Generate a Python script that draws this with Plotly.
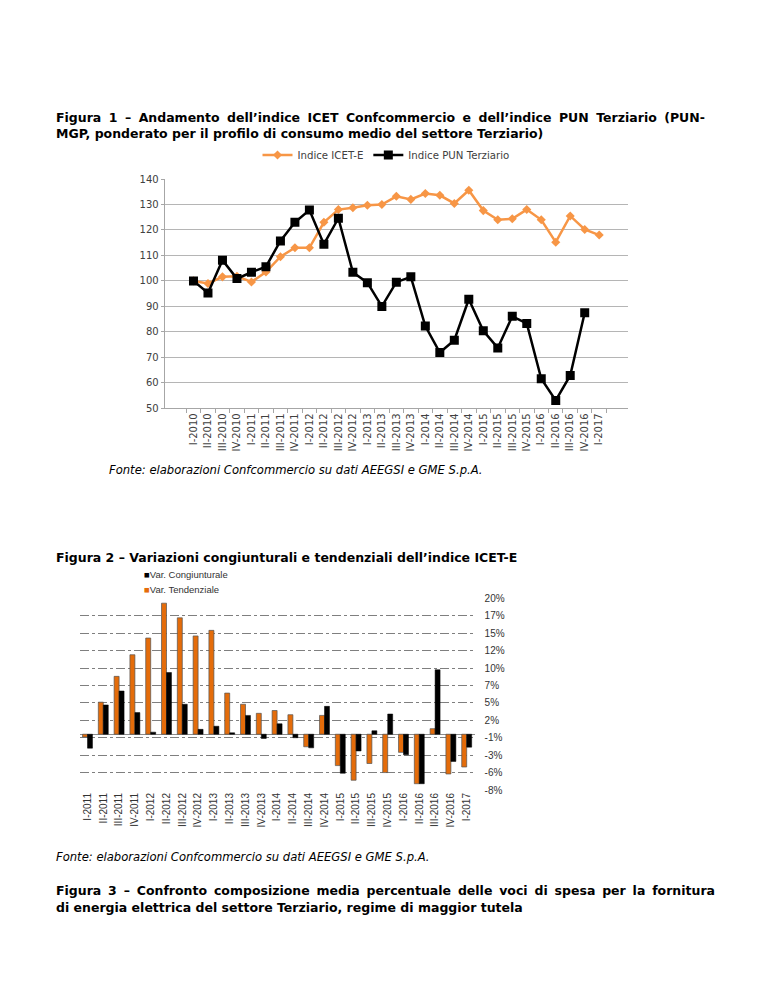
import plotly.graph_objects as go

# ---------------- data ----------------
quarters_fig1 = ["I-2010", "II-2010", "III-2010", "IV-2010",
                 "I-2011", "II-2011", "III-2011", "IV-2011",
                 "I-2012", "II-2012", "III-2012", "IV-2012",
                 "I-2013", "II-2013", "III-2013", "IV-2013",
                 "I-2014", "II-2014", "III-2014", "IV-2014",
                 "I-2015", "II-2015", "III-2015", "IV-2015",
                 "I-2016", "II-2016", "III-2016", "IV-2016",
                 "I-2017"]
icet_e = [100, 99, 101.6, 101.8, 99.6, 103.5, 109.5, 113, 113, 123, 128,
          128.7, 129.7, 130, 133.2, 132, 134.3, 133.6, 130.4, 135.6, 127.6,
          124, 124.4, 128, 124, 115.2, 125.5, 120.2, 118]
pun_terziario = [100, 95.3, 108.1, 100.9, 103.4, 105.6, 115.7, 123, 127.8,
                 114.4, 124.6, 103.4, 99.3, 90, 99.5, 101.6, 82.3, 71.9, 76.7,
                 92.8, 80.4, 73.7, 86.1, 83.3, 61.6, 53.1, 62.9, 87.5, None]
fig1_ticks = [50, 60, 70, 80, 90, 100, 110, 120, 130, 140]

quarters_fig2 = ["I-2011", "II-2011", "III-2011", "IV-2011",
                 "I-2012", "II-2012", "III-2012", "IV-2012",
                 "I-2013", "II-2013", "III-2013", "IV-2013",
                 "I-2014", "II-2014", "III-2014", "IV-2014",
                 "I-2015", "II-2015", "III-2015", "IV-2015",
                 "I-2016", "II-2016", "III-2016", "IV-2016",
                 "I-2017"]
var_tendenziale = [-0.4, 4.6, 8.3, 11.4, 13.8, 18.8, 16.7, 14.1, 14.9, 5.9,
                   4.3, 3.0, 3.4, 2.8, -1.8, 2.7, -4.5, -6.6, -4.2, -5.5,
                   -2.6, -7.1, 0.8, -5.7, -4.7]
var_congiunturale = [-2.0, 4.2, 6.2, 3.1, 0.3, 8.85, 4.3, 0.7, 1.15, 0.2,
                     2.7, -0.6, 1.5, -0.5, -1.95, 4.0, -5.6, -2.4, 0.5, 2.9,
                     -2.95, -7.1, 9.25, -3.9, -1.85]
fig2_tick_values = [19.5, 17, 14.5, 12, 9.5, 7, 4.5, 2, -0.5, -3, -5.5, -8]
fig2_tick_labels = ["20%", "17%", "15%", "12%", "10%", "7%", "5%", "2%",
                    "-1%", "-3%", "-6%", "-8%"]

# page offset of the plot (browser body margin)
OFF = 8
W, H = 768 - OFF, 994 - OFF
def px(x):
    return (x - OFF) / W
def py(y):
    return 1 - (y - OFF) / H

DOC = "DejaVu Sans"
ARIAL = "Liberation Sans"

fig = go.Figure()

# ---------------- figure 1 ----------------
fig.add_trace(go.Scatter(
    x=quarters_fig1, y=icet_e, name="Indice ICET-E", mode="lines+markers",
    line=dict(color="#F79646", width=2.5),
    marker=dict(symbol="diamond", size=7, color="#F79646"),
    xaxis="x", yaxis="y", legend="legend"))
fig.add_trace(go.Scatter(
    x=quarters_fig1, y=pun_terziario, name="Indice PUN Terziario",
    mode="lines+markers", line=dict(color="#000000", width=2.5),
    marker=dict(symbol="square", size=9, color="#000000"),
    xaxis="x", yaxis="y", legend="legend"))

# ---------------- figure 2 ----------------
fig.add_trace(go.Bar(
    x=quarters_fig2, y=var_tendenziale, name="Var. Tendenziale",
    marker=dict(color="#E46C0A", line=dict(color="#555555", width=0.7)),
    xaxis="x2", yaxis="y2", showlegend=False))
fig.add_trace(go.Bar(
    x=quarters_fig2, y=var_congiunturale, name="Var. Congiunturale",
    marker=dict(color="#000000", line=dict(color="#000000", width=0.5)),
    xaxis="x2", yaxis="y2", showlegend=False))

axis_font = dict(family=DOC, size=10, color="#404040")

fig.update_layout(
    width=W, height=H,
    margin=dict(l=0, r=0, t=0, b=0, autoexpand=False),
    paper_bgcolor="white", plot_bgcolor="white",
    barmode="group", bargap=0.37, bargroupgap=0.0,
    showlegend=True,
    legend=dict(orientation="h", x=px(386), xanchor="center",
                y=py(155), yanchor="middle",
                font=dict(family=DOC, size=10.2, color="#404040"),
                bgcolor="rgba(0,0,0,0)", itemwidth=30, traceorder="normal"),
    xaxis=dict(domain=[px(164.7), px(628)], anchor="y", type="category",
               tickangle=-90, tickson="boundaries", ticks="outside",
               ticklen=4, tickcolor="#a6a6a6", showline=True,
               linecolor="#a6a6a6", showgrid=False, tickfont=axis_font,
               fixedrange=True),
    yaxis=dict(domain=[py(408.3), py(179)], anchor="x", range=[50, 140],
               tickvals=fig1_ticks, showgrid=True, gridcolor="#b5b5b5",
               gridwidth=1, showline=True, linecolor="#a6a6a6",
               zeroline=False, tickfont=axis_font, ticks="outside",
               ticklen=3, tickcolor="#a6a6a6"),
    xaxis2=dict(domain=[px(79.6), px(474.6)], anchor="y2", type="category",
                tickangle=-90, showgrid=False, ticks="", showline=False,
                tickfont=dict(family=ARIAL, size=10, color="#333333")),
    yaxis2=dict(domain=[py(790), py(598.3)], anchor="x2", range=[-8, 19.5],
                side="right", tickvals=fig2_tick_values,
                ticktext=fig2_tick_labels, showgrid=True,
                gridcolor="#7f7f7f", griddash="dashdot", gridwidth=1,
                zeroline=True, zerolinecolor="#8c8c8c", zerolinewidth=1,
                showline=False, ticks="", ticklabelstandoff=9,
                tickfont=dict(family=ARIAL, size=10, color="#333333")),
)

def text(x, y, s, size=12.5, bold=False, italic=False, family=DOC,
         color="#000000", xanchor="left"):
    fig.add_annotation(
        x=px(x), y=py(y), xref="paper", yref="paper", text=s,
        showarrow=False, xanchor=xanchor, yanchor="middle", align="left",
        font=dict(family=family, size=size, color=color,
                  weight="bold" if bold else "normal",
                  style="italic" if italic else "normal"))

def justified(words, gap):
    return gap.join(words)

JGAP1 = " \u2005"
JGAP3 = " \u2009"
text(54, 117, justified("Figura 1 – Andamento dell’indice ICET Confcommercio e dell’indice PUN Terziario (PUN-".split(" "), JGAP1), bold=True)
text(54, 133, "MGP, ponderato per il profilo di consumo medio del settore Terziario)", bold=True)
text(107, 470, "Fonte: elaborazioni Confcommercio su dati AEEGSI e GME S.p.A.", size=11.6, italic=True)
text(54, 557, "Figura 2 – Variazioni congiunturali e tendenziali dell’indice ICET-E", bold=True)
text(142, 574, '<span style="color:#000000">■</span>Var. Congiunturale', size=9.5, family=ARIAL, color="#333333")
text(142, 589, '<span style="color:#E46C0A">■</span>Var. Tendenziale', size=9.5, family=ARIAL, color="#333333")
text(54, 857, "Fonte: elaborazioni Confcommercio su dati AEEGSI e GME S.p.A.", size=11.6, italic=True)
text(54, 890, justified("Figura 3 – Confronto composizione media percentuale delle voci di spesa per la fornitura".split(" "), JGAP3), bold=True)
text(54, 907, "di energia elettrica del settore Terziario, regime di maggior tutela", bold=True)

fig.write_html("out.html")
